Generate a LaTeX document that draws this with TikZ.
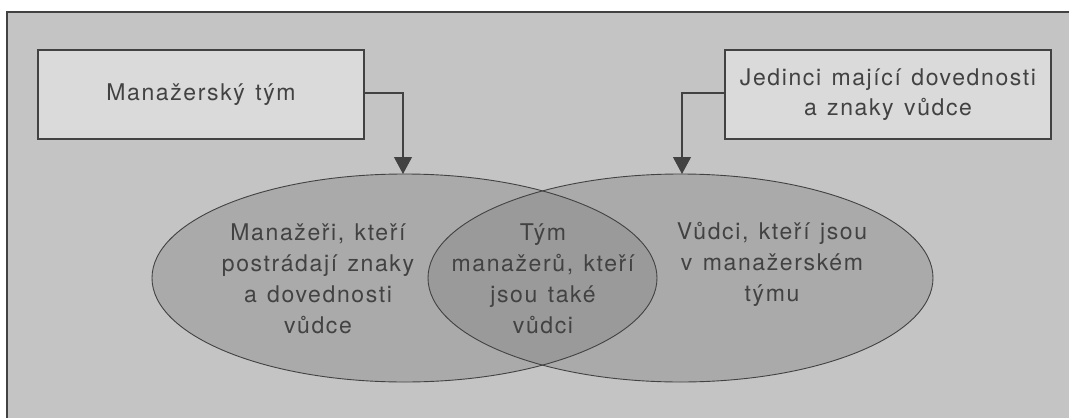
\documentclass[tikz,border=0pt]{standalone}
\usepackage{fontspec}
\setmainfont{TeX Gyre Heros}[LetterSpace=7,WordSpace={1.3,1,1}]
\usetikzlibrary{arrows.meta}
\definecolor{paper}{RGB}{196,196,196}
\definecolor{boxfill}{RGB}{218,218,218}
\definecolor{setfill}{RGB}{170,170,170}
\definecolor{overlapfill}{RGB}{154,154,154}
\definecolor{ink}{RGB}{66,66,66}
\tikzset{
  x=1pt, y=-1pt,
  labelbox/.style={draw=ink, line width=1.2pt, fill=boxfill, minimum width=326pt,
    minimum height=89pt, inner sep=0pt, align=center, text=ink,
    font=\fontsize{23}{30}\selectfont},
  settext/.style={align=center, text=ink, font=\fontsize{23}{31}\selectfont, inner sep=0pt},
  setline/.style={draw=ink, line width=0.9pt},
  feed/.style={draw=ink, line width=1.1pt,
    -{Triangle[length=17pt, width=18pt]}},
}
\begin{document}
\begin{tikzpicture}
\useasboundingbox (0,0) rectangle (1069,418);
\fill[white] (0,0) rectangle (1069,418);
% panel
\fill[paper] (7,12) rectangle (1069,418);
\draw[ink, line width=1.4pt] (7,418) -- (7,12) -- (1069,12);

% the two sets
\fill[setfill] (404.5,278) ellipse [x radius=252.5, y radius=104];
\fill[setfill] (680.5,278) ellipse [x radius=252.5, y radius=104];
\begin{scope}
  \clip (404.5,278) ellipse [x radius=252.5, y radius=104];
  \fill[overlapfill] (680.5,278) ellipse [x radius=252.5, y radius=104];
\end{scope}
\draw[setline] (404.5,278) ellipse [x radius=252.5, y radius=104];
\draw[setline] (680.5,278) ellipse [x radius=252.5, y radius=104];
\coordinate (topL) at (403,174);
\coordinate (topR) at (682,174);

% label boxes
\node[labelbox] (team) at (201,94.5) {Manažerský tým};
\node[labelbox] (leaders) at (888,94.5) {Jedinci mající dovednosti\\a znaky vůdce};

% connectors
\draw[feed] (team.east |- 0,93) -| (topL);
\draw[feed] (leaders.west |- 0,93) -| (topR);

% region texts
\node[settext] (onlyL) at (318,279) {Manažeři, kteří\\postrádají znaky\\a dovednosti\\vůdce};
\node[settext] (both) at (543,279) {Tým\\manažerů, kteří\\jsou také\\vůdci};
\node[settext] (onlyR) at (772,264) {Vůdci, kteří jsou\\v manažerském\\týmu};
\end{tikzpicture}
\end{document}
